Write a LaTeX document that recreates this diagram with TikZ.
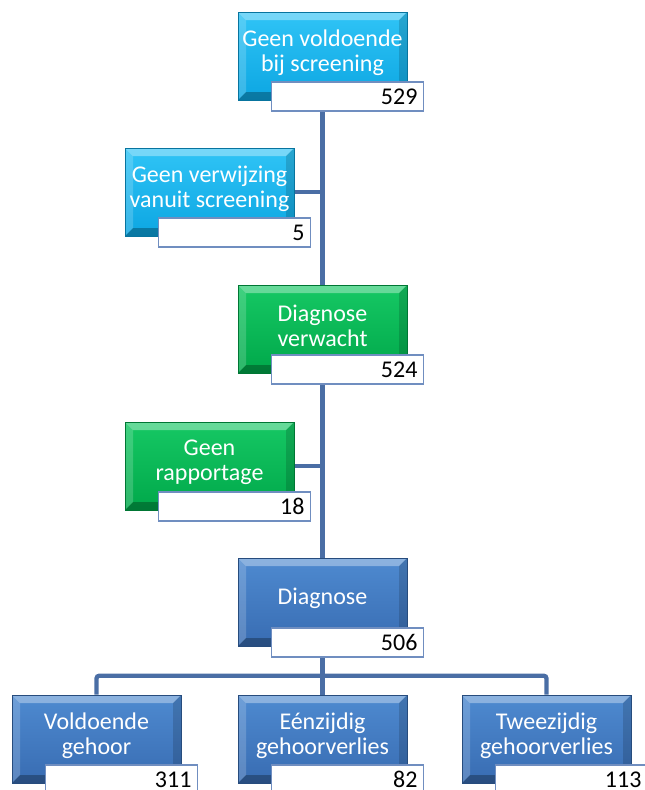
\documentclass[tikz,border=0pt]{standalone}
\usepackage{fontspec}
\setmainfont{Carlito}
\usetikzlibrary{backgrounds}
\definecolor{cyantop}{RGB}{48,196,246}
\definecolor{cyanbot}{RGB}{12,166,226}
\definecolor{greentop}{RGB}{22,200,100}
\definecolor{greenbot}{RGB}{0,168,74}
\definecolor{bluetop}{RGB}{78,138,208}
\definecolor{bluebot}{RGB}{56,108,178}
\definecolor{linkblue}{RGB}{74,110,165}
\definecolor{countline}{RGB}{112,142,192}
\tikzset{bevel/.style={path picture={
  \fill[white,opacity=.35] (path picture bounding box.north west) -- (path picture bounding box.north east)
    -- ([shift={(-6pt,-6pt)}]path picture bounding box.north east) -- ([shift={(6pt,-6pt)}]path picture bounding box.north west) -- cycle;
  \fill[white,opacity=.18] (path picture bounding box.north west) -- ([shift={(6pt,-6pt)}]path picture bounding box.north west)
    -- ([shift={(6pt,6pt)}]path picture bounding box.south west) -- (path picture bounding box.south west) -- cycle;
  \fill[black,opacity=.15] (path picture bounding box.north east) -- ([shift={(-6pt,-6pt)}]path picture bounding box.north east)
    -- ([shift={(-6pt,6pt)}]path picture bounding box.south east) -- (path picture bounding box.south east) -- cycle;
  \fill[black,opacity=.28] (path picture bounding box.south west) -- (path picture bounding box.south east)
    -- ([shift={(-6pt,6pt)}]path picture bounding box.south east) -- ([shift={(6pt,6pt)}]path picture bounding box.south west) -- cycle;
}}}
\tikzstyle{bag} = [minimum width=126.75pt, minimum height=66pt, inner sep=0pt, bevel]
\tikzstyle{screen} = [bag, top color=cyantop, bottom color=cyanbot, draw=cyanbot!70!black, line width=.4pt]
\tikzstyle{expect} = [bag, top color=greentop, bottom color=greenbot, draw=greenbot!70!black, line width=.4pt]
\tikzstyle{result} = [bag, top color=bluetop, bottom color=bluebot, draw=bluebot!70!black, line width=.4pt]
\tikzstyle{txt} = [align=center, text=white, font=\fontsize{18}{18.75}\selectfont]
\tikzstyle{count} = [anchor=north west, draw=countline, fill=white, line width=1.1pt, minimum width=114pt,
  minimum height=21.75pt, text width=105pt, align=right, inner xsep=4.5pt, inner ysep=0pt,
  font=\fontsize{18}{18.75}\selectfont]
\tikzstyle{link} = [draw=linkblue, line width=3.2pt, rounded corners=2pt]

\begin{document}
\begin{tikzpicture}[x=0.75pt, y=-0.75pt]
  \useasboundingbox (0,0) rectangle (645,790);
  \node (a) at (322.5,56) [screen] {};
  \node (at) at ([yshift=2.5pt]a.center) [txt] {Geen voldoende\\bij screening};
  \node (an) at ([xshift=24.75pt,yshift=14.25pt]a.south west) [count] {529};

  \node (b) at (209.5,192) [screen] {};
  \node (bt) at ([yshift=2.5pt]b.center) [txt] {Geen verwijzing\\vanuit screening};
  \node (bn) at ([xshift=24.75pt,yshift=14.25pt]b.south west) [count] {5};

  \node (c) at (322.5,329) [expect] {};
  \node (ct) at ([yshift=2.5pt]c.center) [txt] {Diagnose\\verwacht};
  \node (cn) at ([xshift=24.75pt,yshift=14.25pt]c.south west) [count] {524};

  \node (d) at (209.5,466) [expect] {};
  \node (dt) at ([yshift=2.5pt]d.center) [txt] {Geen\\rapportage};
  \node (dn) at ([xshift=24.75pt,yshift=14.25pt]d.south west) [count] {18};

  \node (e) at (322.5,602) [result] {};
  \node (et) at ([yshift=2.5pt]e.center) [txt] {Diagnose};
  \node (en) at ([xshift=24.75pt,yshift=14.25pt]e.south west) [count] {506};

  \node (f) at (96.5,739) [result] {};
  \node (ft) at ([yshift=2.5pt]f.center) [txt] {Voldoende\\gehoor};
  \node (fn) at ([xshift=24.75pt,yshift=14.25pt]f.south west) [count] {311};

  \node (g) at (322.5,739) [result] {};
  \node (gt) at ([yshift=2.5pt]g.center) [txt] {Eénzijdig\\gehoorverlies};
  \node (gn) at ([xshift=24.75pt,yshift=14.25pt]g.south west) [count] {82};

  \node (h) at (546.5,739) [result] {};
  \node (ht) at ([yshift=2.5pt]h.center) [txt] {Tweezijdig\\gehoorverlies};
  \node (hn) at ([xshift=24.75pt,yshift=14.25pt]h.south west) [count] {113};

  \begin{pgfonlayer}{background}
    \draw [link] (a.center) -- (e.center);
    \draw [link] (b.east) -- (b.east -| a.center);
    \draw [link] (d.east) -- (d.east -| a.center);
    \draw [link] (e.center) -- (g.north);
    \draw [link] (f.north) -- ++(0,-19) -| (h.north);
  \end{pgfonlayer}
\end{tikzpicture}
\end{document}
